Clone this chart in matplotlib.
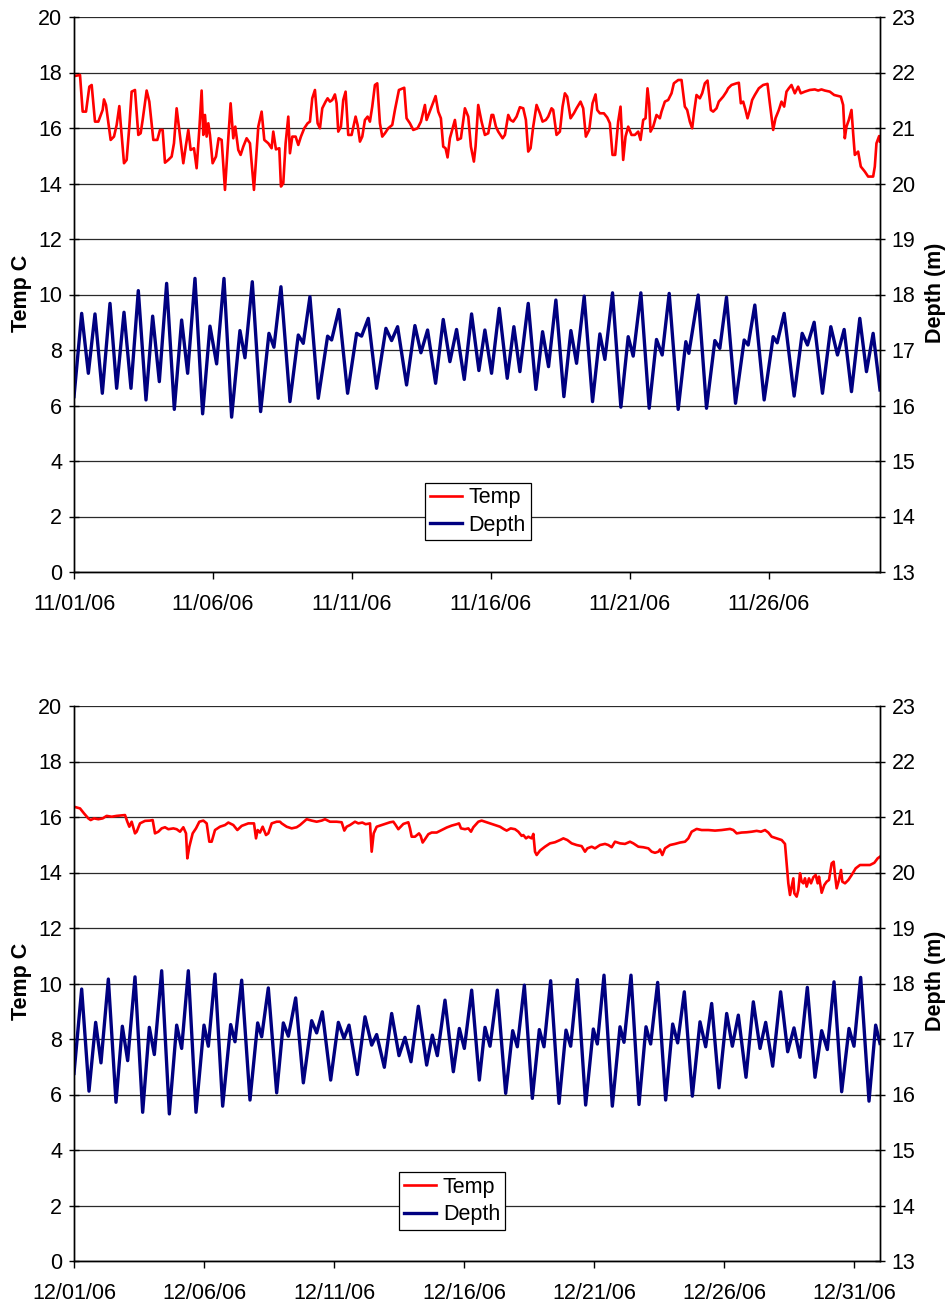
import numpy as np
import matplotlib
matplotlib.use("Agg")
import matplotlib.pyplot as plt
import matplotlib.dates as mdates

plt.rcParams['font.family'] = ['Liberation Sans', 'DejaVu Sans']

# ---------------- DATA ----------------
# time = days since the start of each month panel
nov_start = '2006-11-01'
nov_end_day = 29
nov_tick_days = [0, 5, 10, 15, 20, 25]

nov_temp_t = [
    0.000, 0.216, 0.312, 0.432, 0.552, 0.636, 0.755, 0.875, 1.031, 1.079,
    1.151, 1.319, 1.439, 1.535, 1.631, 1.679, 1.799, 1.894, 1.990, 2.074,
    2.194, 2.314, 2.398, 2.470, 2.614, 2.710, 2.854, 2.998, 3.094, 3.189,
    3.273, 3.393, 3.513, 3.597, 3.693, 3.789, 3.933, 4.029, 4.113, 4.197,
    4.317, 4.412, 4.508, 4.592, 4.652, 4.712, 4.772, 4.832, 4.892, 4.988,
    5.108, 5.204, 5.312, 5.432, 5.516, 5.635, 5.731, 5.803, 5.911, 5.995,
    6.091, 6.211, 6.331, 6.475, 6.547, 6.631, 6.751, 6.847, 6.990, 7.110,
    7.170, 7.266, 7.386, 7.446, 7.530, 7.614, 7.710, 7.770, 7.854, 7.974,
    8.070, 8.165, 8.285, 8.405, 8.489, 8.573, 8.669, 8.765, 8.849, 8.933,
    9.053, 9.125, 9.209, 9.293, 9.388, 9.448, 9.508, 9.604, 9.688, 9.772,
    9.868, 9.988, 10.132, 10.204, 10.288, 10.372, 10.468, 10.564, 10.647, 10.731,
    10.827, 10.911, 11.007, 11.091, 11.187, 11.307, 11.451, 11.547, 11.691, 11.882,
    11.966, 12.086, 12.206, 12.362, 12.482, 12.626, 12.686, 12.866, 13.010, 13.106,
    13.201, 13.285, 13.369, 13.441, 13.525, 13.705, 13.801, 13.921, 14.065, 14.185,
    14.281, 14.388, 14.448, 14.544, 14.664, 14.784, 14.904, 15.024, 15.084, 15.180,
    15.264, 15.420, 15.504, 15.624, 15.707, 15.803, 15.923, 16.043, 16.163, 16.259,
    16.343, 16.427, 16.523, 16.643, 16.763, 16.859, 16.978, 17.062, 17.182, 17.242,
    17.362, 17.482, 17.578, 17.662, 17.746, 17.866, 17.986, 18.082, 18.225, 18.321,
    18.417, 18.537, 18.657, 18.765, 18.825, 18.921, 19.065, 19.185, 19.281, 19.376,
    19.472, 19.580, 19.664, 19.760, 19.844, 19.940, 20.060, 20.180, 20.300, 20.384,
    20.480, 20.564, 20.635, 20.695, 20.743, 20.839, 20.959, 21.079, 21.139, 21.259,
    21.379, 21.499, 21.583, 21.739, 21.859, 21.978, 22.062, 22.158, 22.242, 22.314,
    22.398, 22.518, 22.602, 22.698, 22.794, 22.914, 22.998, 23.118, 23.201, 23.357,
    23.477, 23.537, 23.657, 23.837, 23.921, 23.993, 24.077, 24.161, 24.233, 24.317,
    24.400, 24.496, 24.640, 24.796, 24.952, 25.036, 25.120, 25.156, 25.240, 25.360,
    25.456, 25.552, 25.635, 25.719, 25.815, 25.935, 26.055, 26.151, 26.295, 26.475,
    26.655, 26.775, 26.894, 27.014, 27.194, 27.350, 27.590, 27.674, 27.734, 27.794,
    27.878, 27.974, 28.034, 28.094, 28.213, 28.309, 28.453, 28.573, 28.753, 28.813,
    28.873, 28.969, 29.000]
nov_temp = [
    17.87, 17.91, 16.59, 16.59, 17.49, 17.55, 16.23, 16.23, 16.65, 17.03,
    16.83, 15.57, 15.69, 16.11, 16.79, 16.17, 14.73, 14.85, 16.05, 17.31,
    17.37, 15.75, 15.81, 16.29, 17.35, 16.95, 15.57, 15.57, 15.93, 15.93,
    14.75, 14.85, 14.97, 15.45, 16.71, 15.93, 14.73, 15.39, 15.93, 15.21,
    15.27, 14.55, 15.93, 17.35, 15.75, 16.47, 15.69, 16.17, 15.75, 14.73,
    14.97, 15.63, 15.57, 13.77, 15.09, 16.89, 15.63, 16.05, 15.21, 15.03,
    15.33, 15.63, 15.45, 13.77, 14.85, 16.05, 16.59, 15.57, 15.45, 15.27,
    15.87, 15.23, 15.27, 13.89, 14.01, 15.45, 16.41, 15.09, 15.69, 15.69,
    15.39, 15.69, 15.99, 16.17, 16.23, 17.07, 17.37, 16.17, 15.99, 16.71,
    16.95, 17.07, 16.95, 17.01, 17.21, 16.89, 15.87, 16.05, 17.01, 17.31,
    15.75, 15.75, 16.41, 16.11, 15.51, 15.69, 16.29, 16.41, 16.23, 16.77,
    17.55, 17.61, 16.17, 15.69, 15.81, 15.99, 16.11, 16.65, 17.37, 17.45,
    16.35, 16.17, 15.93, 15.99, 16.23, 16.83, 16.29, 16.77, 17.15, 16.59,
    16.35, 15.33, 15.27, 14.94, 15.63, 16.29, 15.57, 15.63, 16.71, 16.41,
    15.33, 14.79, 15.33, 16.83, 16.23, 15.75, 15.81, 16.47, 16.47, 16.05,
    15.87, 15.63, 15.75, 16.47, 16.29, 16.23, 16.41, 16.75, 16.71, 16.29,
    15.15, 15.27, 16.05, 16.83, 16.53, 16.23, 16.29, 16.41, 16.71, 16.65,
    15.75, 15.87, 16.77, 17.25, 17.13, 16.35, 16.53, 16.71, 16.95, 16.71,
    15.69, 15.93, 16.89, 17.21, 16.65, 16.53, 16.53, 16.38, 16.17, 15.03,
    15.03, 16.23, 16.77, 14.85, 15.69, 16.05, 15.75, 15.75, 15.87, 15.57,
    16.29, 16.35, 17.43, 16.89, 15.87, 16.05, 16.47, 16.35, 16.59, 16.95,
    17.01, 17.25, 17.61, 17.73, 17.73, 16.77, 16.65, 16.23, 15.99, 16.59,
    17.19, 17.07, 17.25, 17.61, 17.71, 16.65, 16.59, 16.71, 16.95, 17.13,
    17.31, 17.43, 17.55, 17.61, 17.63, 16.89, 16.95, 16.65, 16.35, 16.65,
    17.01, 17.19, 17.43, 17.55, 17.59, 16.89, 16.23, 15.93, 16.35, 16.65,
    16.95, 16.77, 17.31, 17.43, 17.55, 17.25, 17.49, 17.25, 17.31, 17.37,
    17.39, 17.35, 17.39, 17.35, 17.31, 17.19, 17.13, 16.83, 15.63, 16.05,
    16.29, 16.65, 15.81, 15.03, 15.15, 14.61, 14.43, 14.25, 14.25, 14.61,
    15.45, 15.71, 15.51]

nov_depth_t = [
    0.000, 0.276, 0.516, 0.755, 1.019, 1.295, 1.535, 1.799, 2.050, 2.314,
    2.590, 2.830, 3.070, 3.333, 3.609, 3.873, 4.089, 4.353, 4.628, 4.892,
    5.132, 5.396, 5.671, 5.971, 6.151, 6.415, 6.715, 7.014, 7.194, 7.446,
    7.770, 8.070, 8.249, 8.489, 8.789, 9.125, 9.269, 9.532, 9.844, 10.168,
    10.348, 10.588, 10.887, 11.223, 11.427, 11.643, 11.966, 12.266, 12.482, 12.722,
    13.010, 13.285, 13.525, 13.765, 14.041, 14.305, 14.568, 14.784, 15.024, 15.300,
    15.588, 15.827, 16.043, 16.343, 16.619, 16.859, 17.074, 17.338, 17.626, 17.878,
    18.082, 18.357, 18.657, 18.921, 19.101, 19.376, 19.676, 19.940, 20.120, 20.396,
    20.695, 20.959, 21.163, 21.415, 21.739, 22.014, 22.122, 22.458, 22.758, 23.058,
    23.237, 23.477, 23.801, 24.113, 24.257, 24.496, 24.832, 25.156, 25.300, 25.552,
    25.911, 26.199, 26.391, 26.631, 26.930, 27.230, 27.470, 27.710, 27.974, 28.273,
    28.513, 28.753, 29.000]
nov_depth = [
    16.16, 17.66, 16.58, 17.65, 16.22, 17.84, 16.31, 17.68, 16.31, 18.07,
    16.10, 17.61, 16.43, 18.20, 15.93, 17.54, 16.58, 18.29, 15.85, 17.43,
    16.75, 18.29, 15.79, 17.35, 16.86, 18.23, 15.89, 17.30, 17.05, 18.14,
    16.07, 17.27, 17.12, 17.96, 16.13, 17.25, 17.18, 17.73, 16.22, 17.30,
    17.25, 17.57, 16.31, 17.39, 17.17, 17.42, 16.37, 17.44, 16.95, 17.36,
    16.40, 17.55, 16.79, 17.37, 16.47, 17.65, 16.63, 17.36, 16.58, 17.75,
    16.49, 17.42, 16.61, 17.84, 16.29, 17.33, 16.70, 17.90, 16.16, 17.35,
    16.76, 17.97, 16.07, 17.29, 16.83, 18.03, 15.97, 17.24, 16.89, 18.03,
    15.95, 17.19, 16.91, 18.02, 15.93, 17.15, 16.94, 17.99, 15.95, 17.17,
    17.03, 17.95, 16.04, 17.18, 17.09, 17.81, 16.10, 17.24, 17.13, 17.66,
    16.17, 17.30, 17.09, 17.50, 16.22, 17.42, 16.91, 17.37, 16.25, 17.57,
    16.61, 17.30, 16.28]

dec_start = '2006-12-01'
dec_end_day = 31
dec_tick_days = [0, 5, 10, 15, 20, 25, 30]

dec_temp_t = [
    0.000, 0.231, 0.385, 0.551, 0.641, 0.769, 0.936, 1.103, 1.256, 1.449,
    1.641, 1.833, 1.962, 2.051, 2.128, 2.218, 2.346, 2.410, 2.538, 2.731,
    2.923, 3.026, 3.115, 3.244, 3.372, 3.500, 3.628, 3.821, 3.949, 4.077,
    4.205, 4.308, 4.359, 4.436, 4.564, 4.692, 4.821, 4.974, 5.103, 5.205,
    5.295, 5.423, 5.615, 5.808, 5.936, 6.128, 6.282, 6.449, 6.705, 6.923,
    7.000, 7.064, 7.154, 7.256, 7.385, 7.474, 7.603, 7.795, 7.923, 7.987,
    8.179, 8.372, 8.564, 8.692, 8.949, 9.141, 9.333, 9.526, 9.654, 9.846,
    10.103, 10.295, 10.397, 10.487, 10.615, 10.808, 10.936, 11.090, 11.218, 11.385,
    11.449, 11.526, 11.641, 11.833, 12.026, 12.154, 12.282, 12.372, 12.474, 12.667,
    12.859, 12.923, 12.987, 13.115, 13.269, 13.333, 13.410, 13.500, 13.628, 13.756,
    13.949, 14.141, 14.333, 14.526, 14.718, 14.808, 14.885, 15.038, 15.167, 15.269,
    15.359, 15.551, 15.679, 15.808, 16.000, 16.192, 16.385, 16.538, 16.641, 16.795,
    16.962, 17.090, 17.218, 17.282, 17.385, 17.474, 17.603, 17.667, 17.731, 17.795,
    17.923, 18.115, 18.308, 18.500, 18.692, 18.821, 18.974, 19.141, 19.333, 19.526,
    19.654, 19.744, 19.910, 20.038, 20.231, 20.423, 20.551, 20.679, 20.808, 21.000,
    21.192, 21.385, 21.513, 21.705, 21.897, 22.090, 22.218, 22.346, 22.474, 22.538,
    22.628, 22.731, 22.923, 23.115, 23.308, 23.500, 23.628, 23.692, 23.756, 23.949,
    24.141, 24.397, 24.654, 24.910, 25.231, 25.359, 25.487, 25.679, 25.872, 26.064,
    26.256, 26.423, 26.577, 26.705, 26.833, 27.026, 27.218, 27.346, 27.410, 27.474,
    27.538, 27.603, 27.667, 27.705, 27.795, 27.859, 27.923, 27.987, 28.051, 28.115,
    28.179, 28.269, 28.346, 28.436, 28.526, 28.603, 28.654, 28.756, 28.859, 28.949,
    29.038, 29.141, 29.218, 29.269, 29.333, 29.423, 29.500, 29.551, 29.654, 29.782,
    29.910, 30.064, 30.231, 30.423, 30.615, 30.782, 30.910, 31.000]
dec_temp = [
    16.37, 16.31, 16.13, 15.95, 15.89, 15.95, 15.92, 15.95, 16.04, 16.01,
    16.04, 16.06, 16.07, 15.83, 15.65, 15.83, 15.41, 15.47, 15.77, 15.86,
    15.87, 15.89, 15.41, 15.47, 15.59, 15.63, 15.56, 15.59, 15.56, 15.47,
    15.63, 15.41, 14.51, 14.93, 15.41, 15.59, 15.83, 15.87, 15.77, 15.11,
    15.11, 15.53, 15.65, 15.71, 15.80, 15.71, 15.53, 15.68, 15.77, 15.77,
    15.23, 15.53, 15.44, 15.65, 15.35, 15.41, 15.77, 15.83, 15.83, 15.77,
    15.65, 15.59, 15.63, 15.71, 15.92, 15.87, 15.83, 15.87, 15.92, 15.83,
    15.83, 15.81, 15.51, 15.65, 15.71, 15.83, 15.77, 15.80, 15.74, 15.77,
    14.75, 15.41, 15.65, 15.71, 15.77, 15.81, 15.83, 15.71, 15.56, 15.75,
    15.81, 15.59, 15.29, 15.29, 15.41, 15.32, 15.08, 15.20, 15.38, 15.44,
    15.44, 15.53, 15.62, 15.69, 15.74, 15.77, 15.59, 15.56, 15.59, 15.47,
    15.63, 15.83, 15.87, 15.83, 15.77, 15.71, 15.65, 15.56, 15.51, 15.59,
    15.56, 15.47, 15.32, 15.35, 15.23, 15.29, 15.23, 15.39, 14.75, 14.63,
    14.79, 14.93, 15.05, 15.09, 15.17, 15.23, 15.17, 15.05, 14.99, 14.95,
    14.75, 14.87, 14.93, 14.87, 14.99, 15.03, 14.99, 14.91, 15.11, 15.05,
    15.03, 15.11, 15.05, 14.93, 14.91, 14.87, 14.75, 14.71, 14.75, 14.83,
    14.63, 14.87, 14.99, 15.03, 15.08, 15.11, 15.23, 15.35, 15.47, 15.57,
    15.53, 15.53, 15.51, 15.53, 15.57, 15.53, 15.41, 15.44, 15.45, 15.47,
    15.50, 15.47, 15.53, 15.44, 15.29, 15.23, 15.17, 15.03, 14.33, 13.61,
    13.19, 13.49, 13.79, 13.25, 13.13, 13.37, 13.97, 13.67, 13.61, 13.79,
    13.49, 13.79, 13.61, 13.83, 13.91, 13.61, 13.85, 13.27, 13.55, 13.67,
    13.73, 14.33, 14.39, 13.91, 13.43, 13.73, 14.09, 13.67, 13.61, 13.73,
    13.91, 14.15, 14.27, 14.27, 14.27, 14.35, 14.51, 14.57]

dec_depth_t = [
    0.000, 0.295, 0.577, 0.833, 1.038, 1.321, 1.615, 1.859, 2.064, 2.346,
    2.641, 2.897, 3.090, 3.372, 3.667, 3.949, 4.141, 4.397, 4.692, 5.000,
    5.167, 5.423, 5.718, 6.026, 6.192, 6.449, 6.769, 7.064, 7.218, 7.474,
    7.795, 8.051, 8.244, 8.526, 8.821, 9.141, 9.333, 9.551, 9.872, 10.167,
    10.385, 10.577, 10.897, 11.192, 11.449, 11.641, 11.936, 12.218, 12.500, 12.731,
    12.962, 13.244, 13.564, 13.782, 13.974, 14.269, 14.590, 14.821, 15.013, 15.295,
    15.590, 15.808, 16.000, 16.282, 16.603, 16.872, 17.051, 17.321, 17.628, 17.897,
    18.077, 18.333, 18.654, 18.923, 19.103, 19.359, 19.679, 19.974, 20.128, 20.385,
    20.705, 21.000, 21.154, 21.423, 21.731, 22.000, 22.179, 22.449, 22.756, 23.026,
    23.218, 23.474, 23.782, 24.077, 24.295, 24.526, 24.808, 25.103, 25.321, 25.551,
    25.846, 26.128, 26.385, 26.603, 26.872, 27.179, 27.449, 27.692, 27.923, 28.205,
    28.500, 28.756, 28.974, 29.231, 29.526, 29.808, 30.000, 30.256, 30.577, 30.833,
    31.000]
dec_depth = [
    16.38, 17.90, 16.06, 17.30, 16.57, 18.08, 15.86, 17.23, 16.61, 18.12,
    15.68, 17.21, 16.72, 18.23, 15.65, 17.25, 16.83, 18.23, 15.68, 17.25,
    16.87, 18.17, 15.79, 17.26, 16.95, 18.06, 15.90, 17.29, 17.04, 17.92,
    16.03, 17.29, 17.05, 17.74, 16.21, 17.33, 17.11, 17.49, 16.26, 17.30,
    17.01, 17.25, 16.36, 17.40, 16.89, 17.08, 16.49, 17.46, 16.70, 17.03,
    16.59, 17.59, 16.53, 17.07, 16.70, 17.70, 16.41, 17.19, 16.83, 17.88,
    16.26, 17.21, 16.87, 17.88, 16.02, 17.15, 16.86, 17.97, 15.93, 17.17,
    16.86, 18.05, 15.84, 17.16, 16.87, 18.07, 15.81, 17.18, 16.91, 18.15,
    15.79, 17.22, 16.94, 18.15, 15.82, 17.22, 16.91, 18.02, 15.90, 17.27,
    16.93, 17.85, 15.97, 17.31, 16.86, 17.64, 16.12, 17.46, 16.87, 17.43,
    16.31, 17.67, 16.83, 17.30, 16.51, 17.85, 16.77, 17.20, 16.67, 17.93,
    16.31, 17.15, 16.81, 18.03, 16.05, 17.19, 16.87, 18.11, 15.88, 17.25,
    16.92]

temp_ticks = list(range(0, 21, 2))
depth_ticks = list(range(13, 24))
series_labels = ['Temp', 'Depth']
y_label_left = 'Temp C'
y_label_right = 'Depth (m)'

# ---------------- DRAWING ----------------
W, H = 951, 1309
fig = plt.figure(figsize=(W / 100, H / 100), dpi=100)

RED = '#FF0000'
NAVY = '#000080'
FS = 15.5


def to_dates(start, days):
    base = np.datetime64(start + 'T00:00:00')
    return base + (np.asarray(days) * 86400).round().astype('timedelta64[s]')


def panel(rect, start, end_day, tick_days, tt, tv, dt, dv, leg_anchor, ycenter):
    ax = fig.add_axes(rect)
    ax2 = ax.twinx()
    l1, = ax.plot(to_dates(start, tt), tv, color=RED, lw=1.9,
                  solid_joinstyle='round', label=series_labels[0])
    l2, = ax2.plot(to_dates(start, dt), dv, color=NAVY, lw=2.4,
                   solid_joinstyle='round', label=series_labels[1])
    ax.set_ylim(0, 20)
    ax2.set_ylim(13, 23)
    ax.set_yticks(temp_ticks)
    ax2.set_yticks(depth_ticks)
    x0 = np.datetime64(start + 'T00:00:00')
    ax.set_xlim(x0, to_dates(start, [end_day])[0])
    ax.set_xticks(to_dates(start, tick_days))
    ax.xaxis.set_major_formatter(mdates.DateFormatter('%m/%d/%y'))

    ax.yaxis.grid(True, color='#2a2a2a', lw=0.9)
    ax.set_axisbelow(True)
    for a in (ax, ax2):
        a.spines['top'].set_visible(False)
        for s in ('left', 'right', 'bottom'):
            a.spines[s].set_color('black')
            a.spines[s].set_linewidth(1.0)
    ax.tick_params(axis='y', direction='inout', length=7, width=1.0,
                   labelsize=FS, pad=5)
    ax2.tick_params(axis='y', direction='inout', length=7, width=1.0,
                    labelsize=FS, pad=5)
    ax.tick_params(axis='x', direction='out', length=5, width=1.0,
                   labelsize=FS, pad=11)

    leg = ax2.legend(handles=[l1, l2], loc='center', bbox_to_anchor=leg_anchor,
                     fontsize=FS, frameon=True, fancybox=False, framealpha=1,
                     edgecolor='black', handlelength=1.5, handletextpad=0.3,
                     borderpad=0.22, labelspacing=0.3, borderaxespad=0)
    leg.get_frame().set_linewidth(0.9)

    fig.text(21 / W, 1 - ycenter / H, y_label_left, rotation=90, ha='center',
             va='center', fontsize=15.5, fontweight='bold')
    fig.text(935 / W, 1 - ycenter / H, y_label_right, rotation=90, ha='center',
             va='center', fontsize=15.5, fontweight='bold')
    return ax, ax2


left = 74 / W
width = 806 / W
height = 555 / H
panel([left, 1 - 572 / H, width, height], nov_start, nov_end_day, nov_tick_days,
      nov_temp_t, nov_temp, nov_depth_t, nov_depth, (0.501, 0.109), 293)
panel([left, 1 - 1261 / H, width, height], dec_start, dec_end_day, dec_tick_days,
      dec_temp_t, dec_temp, dec_depth_t, dec_depth, (0.469, 0.108), 981)

fig.savefig('out.png', dpi=100)
